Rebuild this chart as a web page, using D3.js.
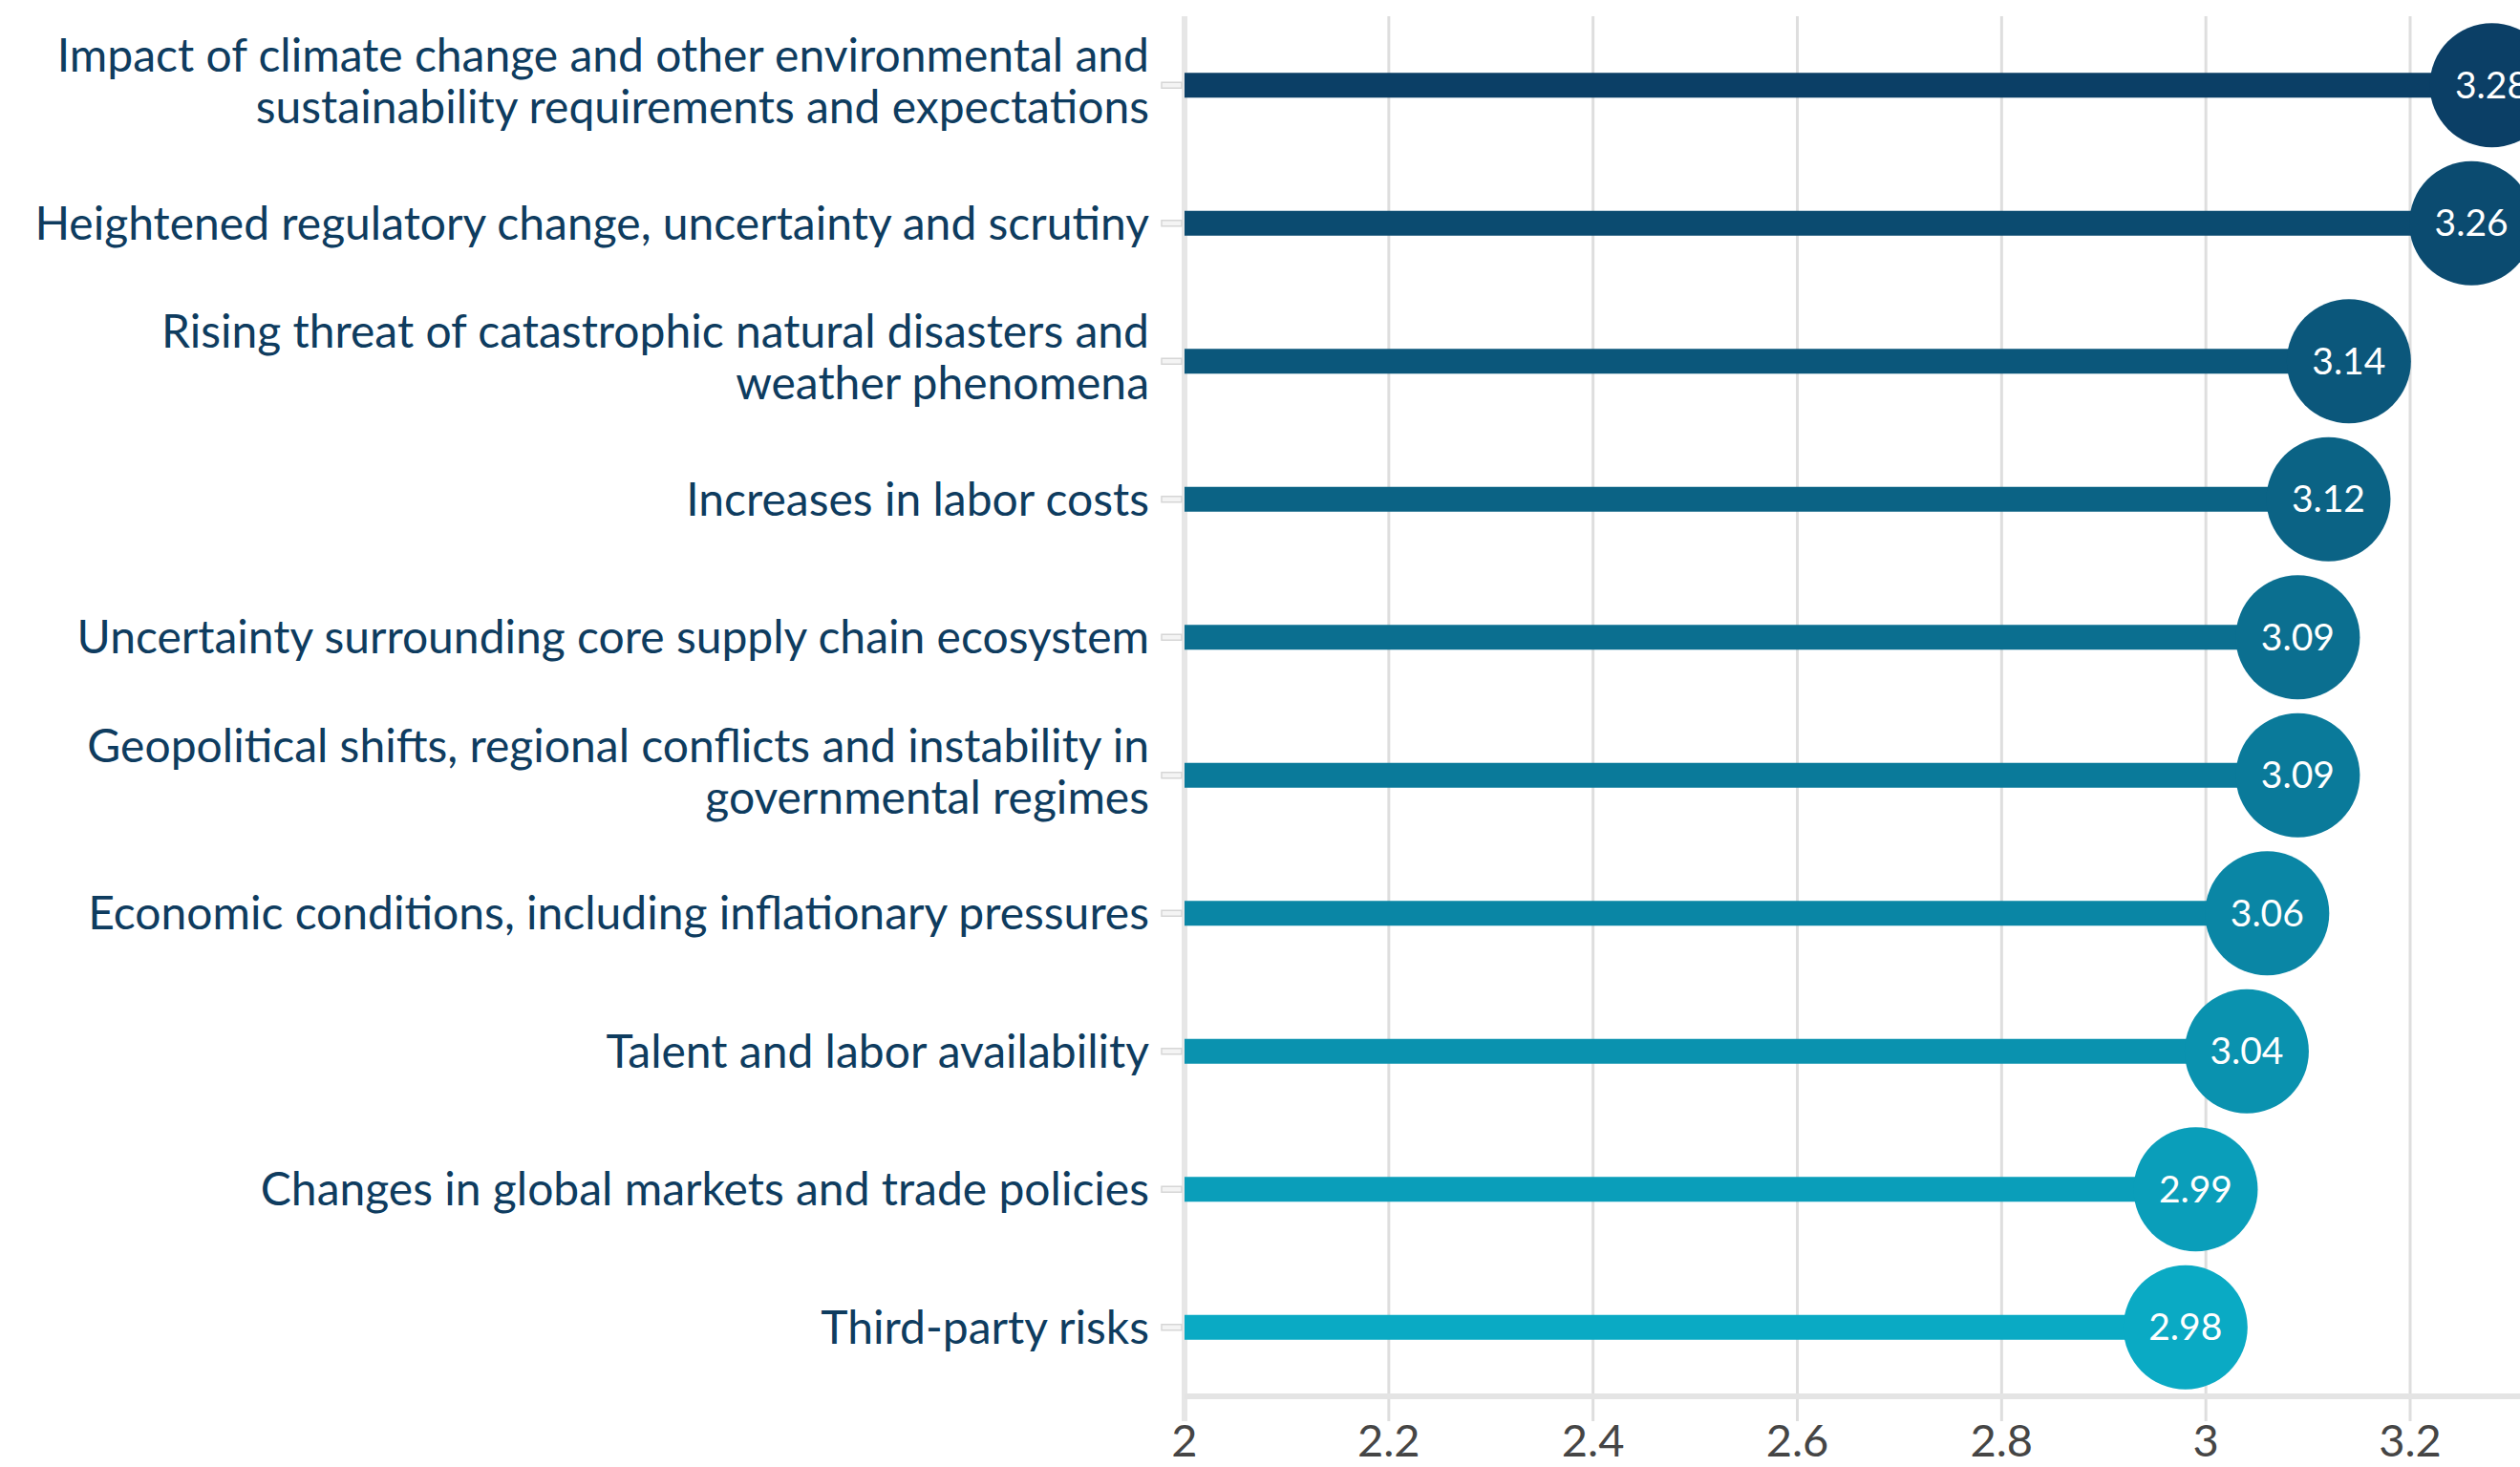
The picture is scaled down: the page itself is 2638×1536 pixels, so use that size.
<!DOCTYPE html>
<html>
<head>
<meta charset="utf-8">
<script src="https://cdn.jsdelivr.net/npm/d3@7"></script>
<style>
  html, body { margin: 0; padding: 0; background: #ffffff; }
  svg { display: block; }
</style>
</head>
<body>
<svg id="chart" width="2638" height="1536"></svg>
<script>
// Risk factors (each label split into display lines) and their average ratings
const categories = [
  ["Impact of climate change and other environmental and", "sustainability requirements and expectations"],
  ["Heightened regulatory change, uncertainty and scrutiny"],
  ["Rising threat of catastrophic natural disasters and", "weather phenomena"],
  ["Increases in labor costs"],
  ["Uncertainty surrounding core supply chain ecosystem"],
  ["Geopolitical shifts, regional conflicts and instability in", "governmental regimes"],
  ["Economic conditions, including inflationary pressures"],
  ["Talent and labor availability"],
  ["Changes in global markets and trade policies"],
  ["Third-party risks"]
];
const values = [3.28, 3.26, 3.14, 3.12, 3.09, 3.09, 3.06, 3.04, 2.99, 2.98];
const tickValues = [2, 2.2, 2.4, 2.6, 2.8, 3, 3.2];

(function () {
  const svg = d3.select("#chart");
  const W = 2638;
  const plotLeft = 1240, plotTop = 17, axisY = 1462;

  const x = d3.scaleLinear().domain([2, 3.2]).range([plotLeft, 2523]);
  const ids = d3.range(values.length);
  const y = d3.scaleBand().domain(ids).range([plotTop, axisY]).padding(0);
  const cy = i => y(i) + y.bandwidth() / 2;

  // dark navy at the top fading to teal at the bottom
  const color = d3.scaleLinear()
    .domain([0, values.length - 1])
    .range(["#0b3f66", "#0aaac4"])
    .interpolate(d3.interpolateRgb);

  // vertical gridlines
  svg.append("g").selectAll("line").data(tickValues).join("line")
    .attr("x1", d => x(d)).attr("x2", d => x(d))
    .attr("y1", plotTop).attr("y2", 1488)
    .attr("stroke", d => d === 2 ? "#e6e6e6" : "#dedede")
    .attr("stroke-width", d => d === 2 ? 6 : 3);

  // horizontal axis line
  svg.append("line")
    .attr("x1", plotLeft).attr("x2", W)
    .attr("y1", axisY).attr("y2", axisY)
    .attr("stroke", "#e4e4e4").attr("stroke-width", 6);

  // x tick labels
  svg.append("g").selectAll("text").data(tickValues).join("text")
    .attr("x", d => x(d)).attr("y", 1525)
    .attr("text-anchor", "middle")
    .attr("font-family", "Lato, 'Open Sans', sans-serif")
    .attr("font-size", 47)
    .attr("fill", "#454545")
    .text(d => d3.format("~g")(d));

  // small y-axis ticks
  svg.append("g").selectAll("rect").data(ids).join("rect")
    .attr("x", 1216).attr("y", i => cy(i) - 3)
    .attr("width", 21).attr("height", 6)
    .attr("fill", "#f4f4f4").attr("stroke", "#d6d6d6").attr("stroke-width", 1.5);

  // category labels
  const labels = svg.append("g").selectAll("text").data(ids).join("text")
    .attr("text-anchor", "end")
    .attr("font-family", "Lato, 'Open Sans', sans-serif")
    .attr("font-size", 48)
    .attr("fill", "#0e3c5f");
  labels.each(function (i) {
    const lines = categories[i];
    const n = lines.length;
    const shift = n > 1 ? -4 : 0;
    d3.select(this).selectAll("tspan").data(lines).join("tspan")
      .attr("x", 1203)
      .attr("y", (d, k) => cy(i) + shift + (k - (n - 1) / 2) * 54)
      .attr("dy", "0.35em")
      .text(d => d);
  });

  // lollipop stems
  svg.append("g").selectAll("rect").data(ids).join("rect")
    .attr("x", plotLeft)
    .attr("y", i => cy(i) - 13)
    .attr("width", i => x(values[i]) - plotLeft)
    .attr("height", 26)
    .attr("fill", i => color(i));

  // lollipop heads
  svg.append("g").selectAll("circle").data(ids).join("circle")
    .attr("cx", i => x(values[i]))
    .attr("cy", i => cy(i))
    .attr("r", 65)
    .attr("fill", i => color(i));

  // value labels
  svg.append("g").selectAll("text").data(ids).join("text")
    .attr("x", i => x(values[i]))
    .attr("y", i => cy(i))
    .attr("dy", "0.35em")
    .attr("text-anchor", "middle")
    .attr("font-family", "Lato, 'Open Sans', sans-serif")
    .attr("font-size", 39)
    .attr("fill", "#ffffff")
    .text(i => d3.format(".2f")(values[i]));
})();
</script>
</body>
</html>
